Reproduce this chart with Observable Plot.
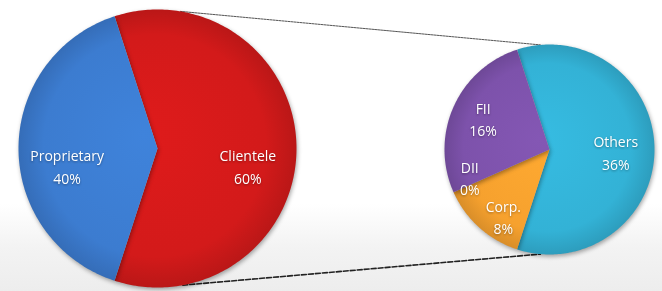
<!DOCTYPE html>
<html>
<head>
<meta charset="utf-8">
<script src="https://cdn.jsdelivr.net/npm/d3@7"></script>
<script src="https://cdn.jsdelivr.net/npm/@observablehq/plot@0.6"></script>
<style>
  html, body { margin: 0; padding: 0; background: #ffffff; }
  #chart svg { display: block; }
</style>
</head>
<body>
<div id="chart"></div>
<script>
// ---- data ----
const mainCategories = ["Clientele", "Proprietary"];
const mainValues = [60, 40];
const mainColors = ["#d31a1a", "#3c7cd0"];

const splitCategories = ["Others", "Corp.", "DII", "FII"];
const splitValues = [36, 8, 0, 16];
const splitColors = ["#33b2d6", "#f6a12e", "#8a5cb5", "#7d52ab"];

// ---- layout ----
const W = 662, H = 291;
const startAngle = -18; // degrees, clockwise from 12 o'clock
const pies = [
  {id: "m", cx: 157, cy: 148, r: 139, cats: mainCategories, vals: mainValues, cols: mainColors, labelDy: 17},
  {id: "s", cx: 549, cy: 149, r: 105, cats: splitCategories, vals: splitValues, cols: splitColors, labelDy: 0}
];
// small label nudges (layout only)
const labelNudge = {"FII": [-4, -4], "DII": [-3, -7], "Corp.": [10, 4], "Others": [-2, 2]};

const rad = a => a * Math.PI / 180;
const pt = (p, a, rr) => ({x: p.cx + rr * Math.sin(rad(a)), y: p.cy - rr * Math.cos(rad(a))});

const slices = [];
const labels = [];
for (const p of pies) {
  const total = d3.sum(p.vals);
  let a = startAngle;
  p.vals.forEach((v, i) => {
    const span = v / total * 360;
    const a0 = a, a1 = a + span;
    const pts = [{x: p.cx, y: p.cy}];
    const n = Math.max(2, Math.ceil(span));
    for (let k = 0; k <= n; k++) pts.push(pt(p, a0 + (a1 - a0) * k / n, p.r));
    slices.push({key: `${p.id}${i}`, pts, color: p.cols[i], pie: p});
    const share = v / total;
    const frac = p.id === "m" ? 0.65 : (share < 0.15 ? 0.8 : 0.65);
    const lp = pt(p, (a0 + a1) / 2, p.r * frac);
    const nd = labelNudge[p.cats[i]] || [0, 0];
    labels.push({x: lp.x + nd[0], y: lp.y + p.labelDy + nd[1], text: `${p.cats[i]}\n${Math.round(v)}%`});
    a = a1;
  });
}

// connector lines between the two pies
const [pm, ps] = pies;
const topA = pt(pm, 9.5, pm.r), topB = pt(ps, -5, ps.r);
const botA = pt(pm, 169.5, pm.r), botB = pt(ps, 185, ps.r);
const connTop = [topA, topB];
const connBot = [botA, botB];

const plot = Plot.plot({
  width: W,
  height: H,
  margin: 0,
  x: {domain: [0, W], range: [0, W], axis: null},
  y: {domain: [0, H], range: [0, H], axis: null},
  style: {background: "linear-gradient(to bottom, #ffffff 0%, #ffffff 70%, #f3f3f3 85%, #ededed 100%)", overflow: "visible"},
  marks: [
    Plot.line(connTop, {x: "x", y: "y", stroke: "#555", strokeWidth: 1, strokeDasharray: "2,1"}),
    Plot.line(connBot, {x: "x", y: "y", stroke: "#222", strokeWidth: 1.6, strokeDasharray: "5,2"}),
    ...slices.map(s => Plot.line(s.pts, {
      x: "x", y: "y",
      fill: `url(#g-${s.key})`,
      stroke: "none",
      curve: "linear-closed"
    })),
    Plot.text(labels, {
      x: "x", y: "y", text: "text",
      fill: "white",
      fontSize: 14,
      lineHeight: 1.6,
      fontFamily: "'Open Sans', 'Liberation Sans', sans-serif"
    })
  ]
});

// radial shading for a slightly 3D look
const svg = d3.select(plot);
const defs = svg.insert("defs", ":first-child");
for (const s of slices) {
  const base = d3.color(s.color);
  const g = defs.append("radialGradient")
    .attr("id", `g-${s.key}`)
    .attr("gradientUnits", "userSpaceOnUse")
    .attr("cx", s.pie.cx).attr("cy", s.pie.cy).attr("r", s.pie.r)
    .attr("fx", s.pie.cx - s.pie.r * 0.1).attr("fy", s.pie.cy - s.pie.r * 0.1);
  g.append("stop").attr("offset", "0%").attr("stop-color", base.brighter(0.15).formatHex());
  g.append("stop").attr("offset", "80%").attr("stop-color", base.formatHex());
  g.append("stop").attr("offset", "100%").attr("stop-color", base.darker(0.35).formatHex());
}
svg.selectAll("g[aria-label='line']").filter(function() {
  return (this.getAttribute("fill") || "").startsWith("url(");
}).style("filter", "drop-shadow(1px 2px 2px rgba(0,0,0,0.35))");
svg.selectAll("g[aria-label='text']").style("filter", "drop-shadow(0px 1px 1px rgba(0,0,0,0.35))");

document.getElementById("chart").appendChild(plot);
</script>
</body>
</html>
